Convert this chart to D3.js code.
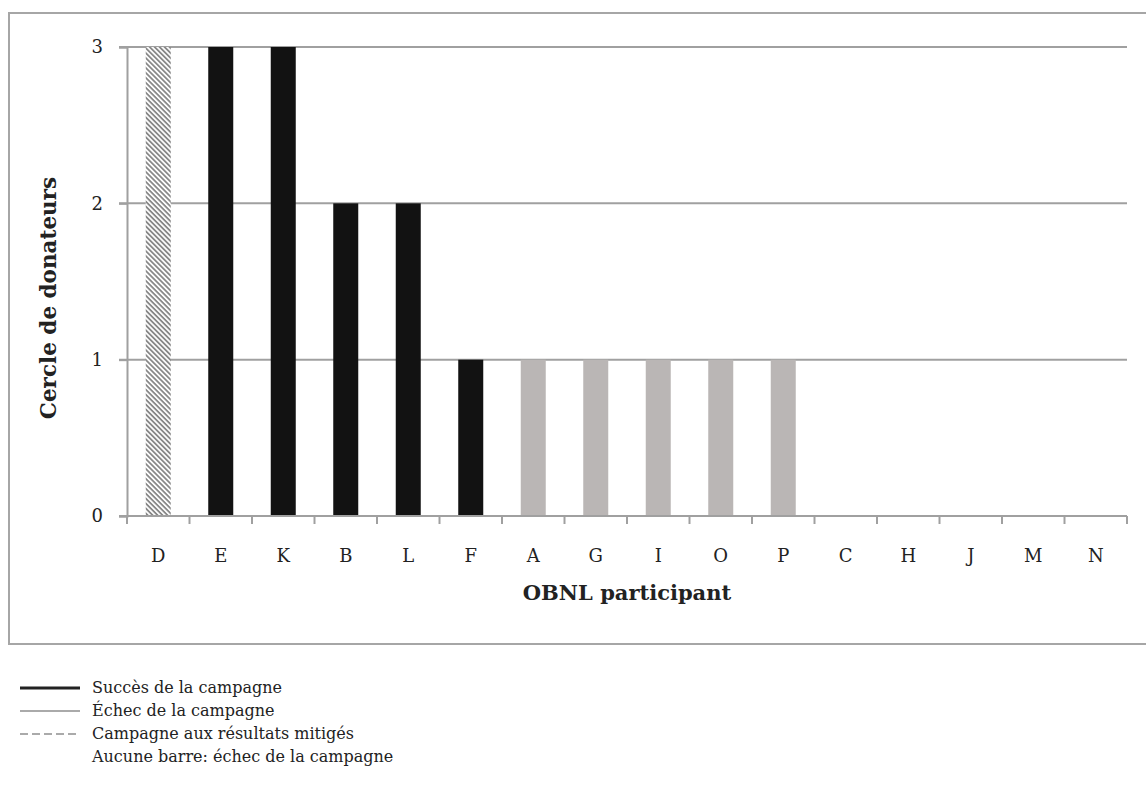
<!DOCTYPE html>
<html>
<head>
<meta charset="utf-8">
<script src="https://cdn.jsdelivr.net/npm/d3@7"></script>
<style>
  body { margin: 0; background: #fff; }
  text { font-family: "DejaVu Serif", "Liberation Serif", serif; fill: #222; }
</style>
</head>
<body>
<div id="chart"></div>
<script>
// DATA
const categories = ["D", "E", "K", "B", "L", "F", "A", "G", "I", "O", "P", "C", "H", "J", "M", "N"];
const values     = [3, 3, 3, 2, 2, 1, 1, 1, 1, 1, 1, 0, 0, 0, 0, 0];
const outcomes   = ["mixed", "success", "success", "success", "success", "success",
                    "fail", "fail", "fail", "fail", "fail", "none", "none", "none", "none", "none"];
const yTicks     = [0, 1, 2, 3];
const legendItems = [
  { label: "Succès de la campagne", kind: "success" },
  { label: "Échec de la campagne", kind: "fail" },
  { label: "Campagne aux résultats mitigés", kind: "mixed" },
  { label: "Aucune barre: échec de la campagne", kind: "none" }
];

const W = 1146, H = 789;
const margin = { left: 127, right: 19, top: 47, bottom: 273 };

const svg = d3.select('#chart').append('svg')
    .attr('width', W)
    .attr('height', H);

// hatch pattern for the mixed result bar
const defs = svg.append('defs');
const pat = defs.append('pattern')
    .attr('id', 'hatch')
    .attr('patternUnits', 'userSpaceOnUse')
    .attr('width', 3.5)
    .attr('height', 3.5)
    .attr('patternTransform', 'rotate(45)');
pat.append('rect').attr('width', 3.5).attr('height', 3.5).attr('fill', '#fff');
pat.append('rect').attr('width', 3.5).attr('height', 1.8).attr('fill', '#888');

// frame around the chart
svg.append('rect')
    .attr('x', 9).attr('y', 13)
    .attr('width', 1150).attr('height', 631)
    .attr('fill', 'none')
    .attr('stroke', '#a6a6a6')
    .attr('stroke-width', 2);

const x = d3.scaleBand()
    .domain(categories)
    .range([margin.left, W - margin.right])
    .paddingInner(0.6)
    .paddingOuter(0.3);

const xEdges = d3.scaleLinear()
    .domain([0, categories.length])
    .range([margin.left, W - margin.right]);

const y = d3.scaleLinear()
    .domain([0, 3])
    .range([H - margin.bottom, margin.top]);

const fills = { success: '#121212', fail: '#bab6b5', mixed: 'url(#hatch)', none: 'none' };

// gridlines
svg.append('g')
    .selectAll('line')
    .data(yTicks.filter(d => d > 0))
    .enter()
    .append('line')
        .attr('x1', margin.left - 8)
        .attr('x2', W - margin.right)
        .attr('y1', d => y(d))
        .attr('y2', d => y(d))
        .attr('stroke', '#a0a0a0')
        .attr('stroke-width', 2);

// bars
svg.append('g')
    .selectAll('rect')
    .data(categories)
    .enter()
    .append('rect')
        .attr('x', d => x(d))
        .attr('width', x.bandwidth())
        .attr('y', (d, i) => y(values[i]))
        .attr('height', (d, i) => y(0) - y(values[i]))
        .attr('fill', (d, i) => fills[outcomes[i]]);

// y axis
const yAxis = svg.append('g')
    .attr('transform', `translate(${margin.left},0)`)
    .call(d3.axisLeft(y).tickValues(yTicks).tickSize(8).tickPadding(16).tickFormat(d3.format('d')));
yAxis.select('.domain').attr('stroke', '#a0a0a0').attr('stroke-width', 2);
yAxis.selectAll('.tick line').attr('stroke', '#a0a0a0').attr('stroke-width', 2);
yAxis.selectAll('.tick text').style('font-size', '18px').attr('fill', '#222');

// x axis line + ticks at band edges
const xg = svg.append('g');
xg.append('line')
    .attr('x1', margin.left - 8)
    .attr('x2', W - margin.right)
    .attr('y1', y(0)).attr('y2', y(0))
    .attr('stroke', '#a0a0a0')
    .attr('stroke-width', 2);
xg.selectAll('line.tk')
    .data(d3.range(categories.length + 1))
    .enter()
    .append('line')
        .attr('class', 'tk')
        .attr('x1', d => xEdges(d))
        .attr('x2', d => xEdges(d))
        .attr('y1', y(0))
        .attr('y2', y(0) + 8)
        .attr('stroke', '#a0a0a0')
        .attr('stroke-width', 2);
xg.selectAll('text')
    .data(categories)
    .enter()
    .append('text')
        .attr('x', d => x(d) + x.bandwidth() / 2)
        .attr('y', y(0) + 46)
        .attr('text-anchor', 'middle')
        .style('font-size', '18px')
        .text(d => d);

// axis titles
svg.append('text')
    .attr('x', 627)
    .attr('y', 600)
    .attr('text-anchor', 'middle')
    .style('font-size', '21px')
    .style('font-weight', 'bold')
    .text('OBNL participant');

svg.append('text')
    .attr('transform', 'translate(56,298) rotate(-90)')
    .attr('text-anchor', 'middle')
    .style('font-size', '21.5px')
    .style('font-weight', 'bold')
    .text('Cercle de donateurs');

// legend
const legend = svg.append('g')
    .attr('transform', 'translate(20,688)');
const rows = legend.selectAll('g')
    .data(legendItems)
    .enter()
    .append('g')
        .attr('transform', (d, i) => `translate(0,${i * 23})`);
rows.filter(d => d.kind !== 'none')
    .append('line')
        .attr('x1', 0).attr('x2', 60)
        .attr('y1', 0).attr('y2', 0)
        .attr('stroke', d => d.kind === 'success' ? '#222' : '#aaa')
        .attr('stroke-width', d => d.kind === 'success' ? 3 : 2)
        .attr('stroke-dasharray', d => d.kind === 'mixed' ? '8,4' : null);
rows.append('text')
    .attr('x', 72)
    .attr('y', 5)
    .style('font-size', '16px')
    .text(d => d.label);
</script>
</body>
</html>
